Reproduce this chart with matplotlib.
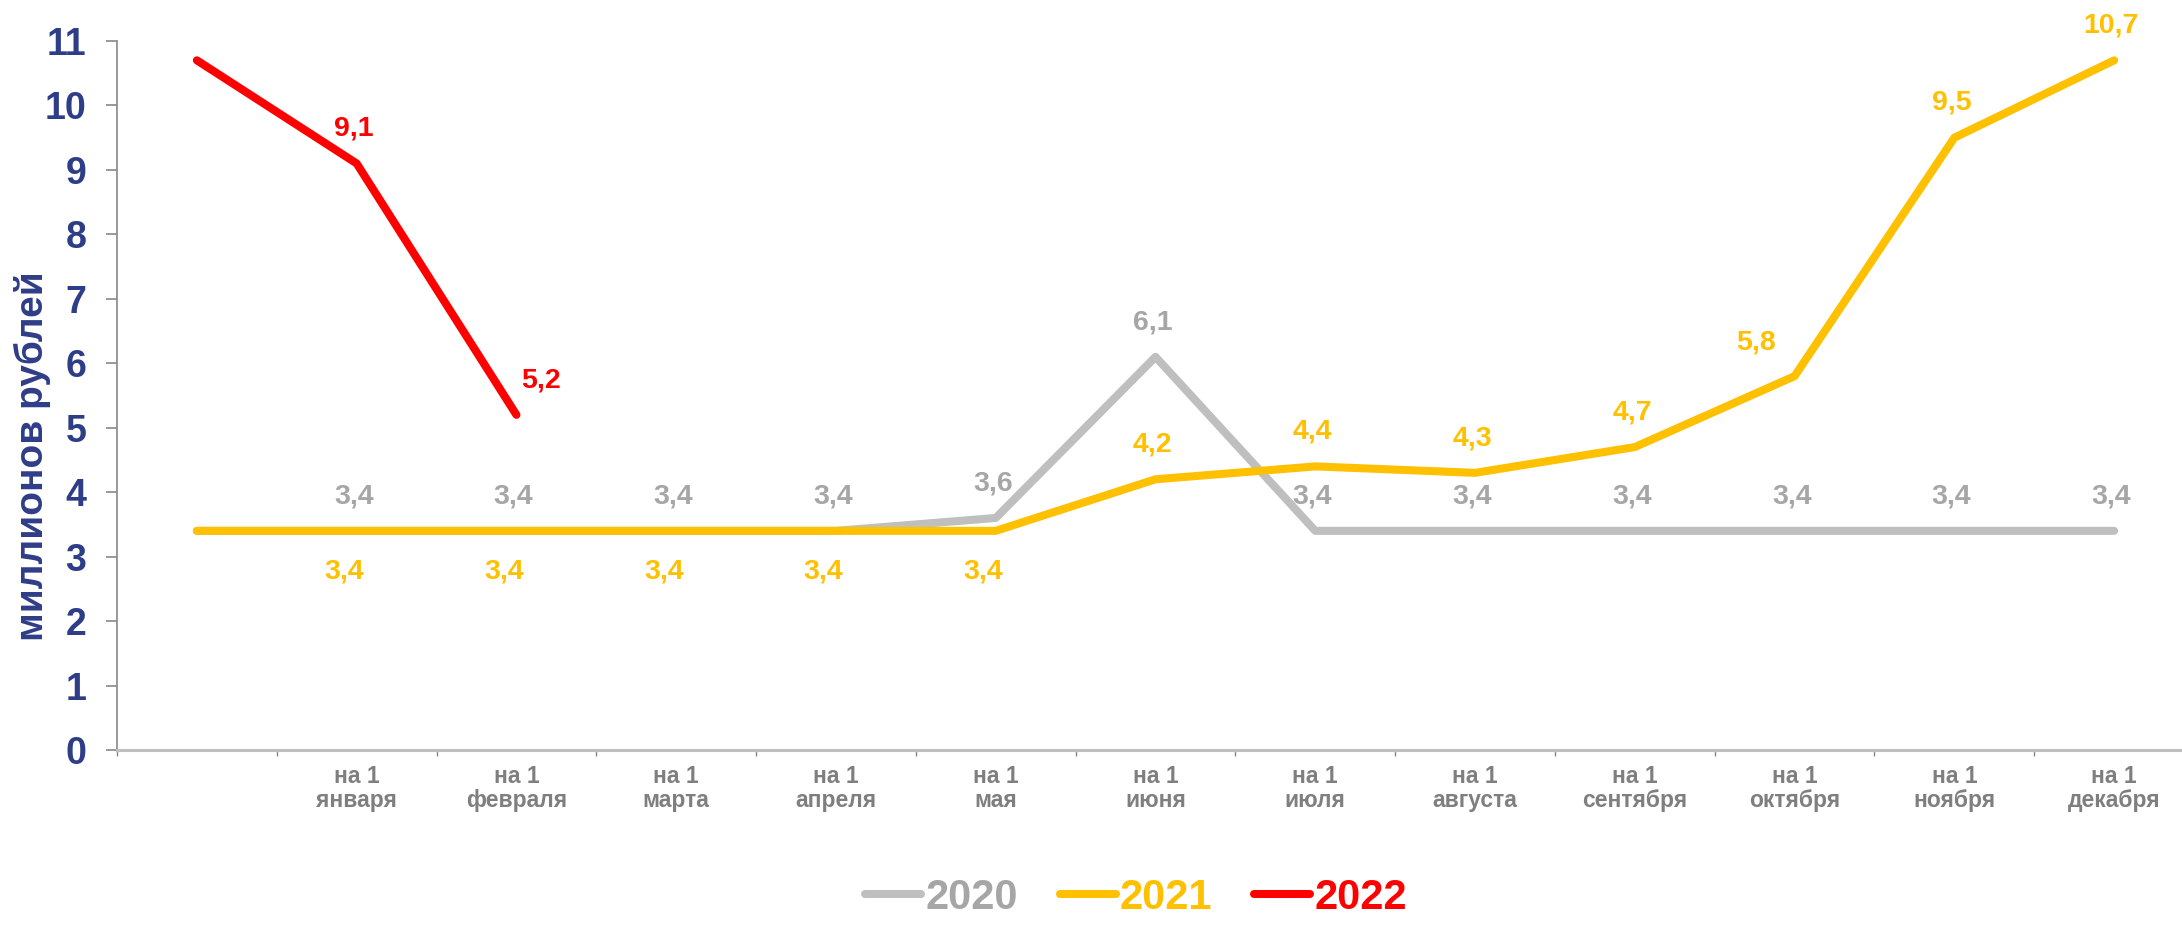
import matplotlib
matplotlib.use("Agg")
import matplotlib.pyplot as plt
import numpy as np

# categories (first point has no caption)
months = ['', 'на 1\nянваря', 'на 1\nфевраля', 'на 1\nмарта', 'на 1\nапреля', 'на 1\nмая',
          'на 1\nиюня', 'на 1\nиюля', 'на 1\nавгуста', 'на 1\nсентября', 'на 1\nоктября',
          'на 1\nноября', 'на 1\nдекабря']

y2020 = [3.4, 3.4, 3.4, 3.4, 3.4, 3.6, 6.1, 3.4, 3.4, 3.4, 3.4, 3.4, 3.4]
y2021 = [3.4, 3.4, 3.4, 3.4, 3.4, 3.4, 4.2, 4.4, 4.3, 4.7, 5.8, 9.5, 10.7]
y2022 = [10.7, 9.1, 5.2]

# label placement per point: 'a' above, 'b' below, 'al' above-left, 'ar' above-right, None = no label
place2020 = [None] + ['a'] * 12
place2021 = [None, 'b', 'b', 'b', 'b', 'b', 'a', 'a', 'a', 'a', 'al', 'a', 'a']
place2022 = [None, 'a', 'ar']

c2020, c2020_txt = '#BFBFBF', '#A6A6A6'
c2021 = '#FFC000'
c2022 = '#FF0000'
blue = '#2E3D87'

fig = plt.figure(figsize=(21.82, 9.33), dpi=100)
ax = fig.add_axes([117 / 2182, 183 / 933, 2077 / 2182, 709 / 933])

x = np.arange(len(months))
lw = 5.8
ax.plot(x, y2020, color=c2020, lw=lw, solid_capstyle='round', solid_joinstyle='round', label='2020')
ax.plot(x, y2021, color=c2021, lw=lw, solid_capstyle='round', solid_joinstyle='round', label='2021')
ax.plot(x[:len(y2022)], y2022, color=c2022, lw=lw, solid_capstyle='round', solid_joinstyle='round', label='2022')

offsets = {'a': (-2, 25), 'b': (-9, -29), 'al': (-28, 24), 'ar': (18, 25)}


def add_labels(vals, places, color):
    for i, (v, p) in enumerate(zip(vals, places)):
        if p is None:
            continue
        dx, dy = offsets[p]
        ax.annotate(f'{v:.1f}'.replace('.', ','), (x[i], v), xytext=(dx, dy),
                    textcoords='offset points', ha='center', va='center',
                    fontsize=20.5, fontweight='bold', color=color, family='Liberation Sans')


add_labels(y2020, place2020, c2020_txt)
add_labels(y2021, place2021, c2021)
add_labels(y2022, place2022, c2022)

ax.set_xlim(-0.5, len(months) - 0.5)
ax.set_ylim(0, 11)
ax.set_yticks(range(0, 12))
ax.tick_params(axis='y', direction='out', length=8, width=1.2, color='#878787', pad=14,
               labelsize=27, labelcolor=blue)
for t in ax.get_yticklabels():
    t.set_fontweight('bold')
    t.set_family('Liberation Sans')

ax.set_xticks(x)
ax.set_xticklabels(months, fontsize=16.5, fontweight='bold', color='#7F7F7F',
                   family=['Liberation Sans Narrow', 'Liberation Sans'], linespacing=1.05)
ax.tick_params(axis='x', which='major', length=0, pad=11)
ax.set_xticks(np.arange(-0.5, len(months), 1), minor=True)
ax.tick_params(axis='x', which='minor', direction='out', length=4, width=1, color='#878787')

for s in ['top', 'right']:
    ax.spines[s].set_visible(False)
ax.spines['left'].set_color('#878787')
ax.spines['left'].set_linewidth(1.2)
ax.spines['bottom'].set_color('#BFBFBF')
ax.spines['bottom'].set_linewidth(2.2)

fig.text(32 / 2182, 1 - 456 / 933, 'миллионов рублей', rotation=90, ha='center', va='center',
         fontsize=28, fontweight='bold', color=blue, family='Liberation Sans')

leg = fig.legend(loc='lower center', bbox_to_anchor=(1136 / 2182, -0.008), ncol=3, frameon=False,
                 handlelength=1.35, handletextpad=0.1, columnspacing=1.0, borderpad=0.05,
                 prop={'family': ['Liberation Sans Narrow', 'Liberation Sans'], 'weight': 'bold', 'size': 30})
for txt, col in zip(leg.get_texts(), [c2020_txt, c2021, c2022]):
    txt.set_color(col)
for h in leg.get_lines():
    h.set_solid_capstyle('round')

fig.savefig('out.png', dpi=100)
